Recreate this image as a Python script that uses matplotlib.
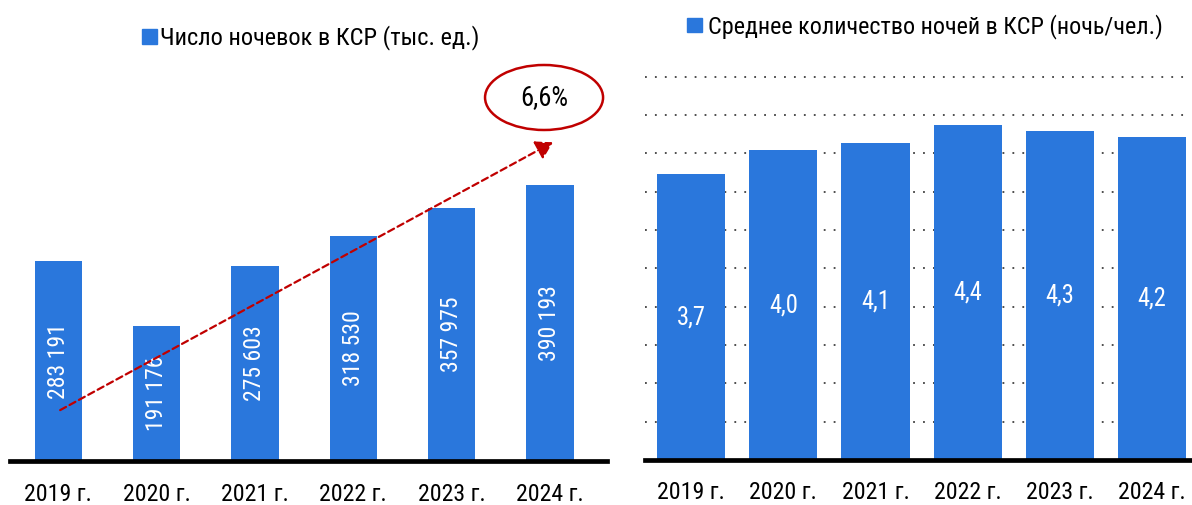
import matplotlib
matplotlib.use("Agg")
import matplotlib.pyplot as plt
from matplotlib.patches import Rectangle, Ellipse
from matplotlib import font_manager

years = ["2019 г.", "2020 г.", "2021 г.", "2022 г.", "2023 г.", "2024 г."]
overnights = [283191, 191176, 275603, 318530, 357975, 390193]
avg_nights = [3.73, 4.04, 4.14, 4.37, 4.29, 4.22]
legend_left = "Число ночевок в КСР (тыс. ед.)"
legend_right = "Среднее количество ночей в КСР (ночь/чел.)"
growth_label = "6,6%"

names = {f.name for f in font_manager.fontManager.ttflist}
cands = ["Liberation Sans Narrow", "Arial Narrow", "Roboto Condensed", "PT Sans Narrow",
         "Liberation Sans", "DejaVu Sans"]
fam = [n for n in cands if n in names]
plt.rcParams["font.family"] = fam

BLUE = "#2A77DC"
RED = "#C00000"
FS = 17

W, H = 1192, 505
fig = plt.figure(figsize=(W / 100, H / 100), dpi=100)


def rect(x0, x1, ytop, ybot):
    return [x0 / W, (H - ybot) / H, (x1 - x0) / W, (ybot - ytop) / H]


x = list(range(len(years)))

# ---------- left chart ----------
axL = fig.add_axes(rect(10, 607, 60, 461))
axL.bar(x, overnights, width=0.48, color=BLUE, zorder=2)
axL.set_xlim(-0.49, 5.58)
axL.set_ylim(0, 567400)
for s in ["top", "left", "right"]:
    axL.spines[s].set_visible(False)
axL.spines["bottom"].set_linewidth(3.4)
axL.spines["bottom"].set_color("black")
axL.set_yticks([])
axL.set_xticks(x)
axL.set_xticklabels(years, fontsize=FS)
axL.tick_params(axis="x", length=0, pad=16)
left_labels = []
for xi, v in zip(x, overnights):
    lbl = f"{v:,}".replace(",", " ")
    left_labels.append(axL.text(xi, v / 2, lbl, rotation=90, ha="center", va="center",
                                color="white", fontsize=FS, zorder=3))

# trend arrow
axL.annotate("", xy=(5.03, 451000), xytext=(0.02, 72000),
             arrowprops=dict(arrowstyle="-|>,head_length=0.5,head_width=0.3",
                             mutation_scale=20,
                             color=RED, lw=1.6, linestyle=(0, (3, 1.8)),
                             shrinkA=0, shrinkB=0),
             annotation_clip=False, zorder=4)
ell = Ellipse((4.94, 514350), width=1.20, height=65 * 1415, fill=False,
              edgecolor=RED, lw=1.8, clip_on=False, zorder=4)
axL.add_patch(ell)
growth = axL.text(4.94, 514350, growth_label, ha="center", va="center",
                  fontsize=FS, color="black", zorder=5)

# ---------- right chart ----------
axR = fig.add_axes(rect(645, 1190, 60, 460))
axR.bar(x, avg_nights, width=0.74, color=BLUE, zorder=2)
axR.set_xlim(-0.5, 5.41)
axR.set_ylim(0, 5.22)
for s in ["top", "left", "right"]:
    axR.spines[s].set_visible(False)
axR.spines["bottom"].set_linewidth(3.4)
axR.spines["bottom"].set_color("black")
axR.spines["bottom"].set_zorder(5)
axR.set_yticks([i * 0.5 for i in range(1, 11)])
axR.tick_params(axis="y", length=0, labelleft=False)
axR.yaxis.grid(True, color="#404040", linestyle=(0, (1, 4.5)), lw=1.3, zorder=1)
axR.set_axisbelow(True)
axR.set_xticks(x)
axR.set_xticklabels(years, fontsize=FS)
axR.tick_params(axis="x", length=0, pad=15)
right_labels = []
for xi, v in zip(x, avg_nights):
    lbl = f"{v:.1f}".replace(".", ",")
    right_labels.append(axR.text(xi, v / 2, lbl, ha="center", va="center",
                                 color="white", fontsize=FS, zorder=3))

# ---------- legends ----------
fig.patches.append(Rectangle((142 / W, 1 - 44 / H), 15 / W, 15 / H,
                             transform=fig.transFigure, color=BLUE, figure=fig))
legL = fig.text(160 / W, 1 - 44 / H, legend_left, ha="left", va="baseline", fontsize=FS)
fig.patches.append(Rectangle((687 / W, 1 - 32 / H), 15 / W, 14 / H,
                             transform=fig.transFigure, color=BLUE, figure=fig))
legR = fig.text(708 / W, 1 - 33 / H, legend_right, ha="left", va="baseline", fontsize=FS)

# ---------- fit font sizes to the reference's text extents ----------
fig.canvas.draw()
r = fig.canvas.get_renderer()


def fit(texts, ref, target, vertical=False):
    bb = ref.get_window_extent(r)
    size = bb.height if vertical else bb.width
    fs = ref.get_fontsize() * target / size
    for t in texts:
        t.set_fontsize(fs)


fit([legL], legL, 318)
fit([legR], legR, 455)
fit(left_labels, left_labels[-1], 76, vertical=True)
fit(right_labels, right_labels[0], 29)
fit([growth], growth, 48)
ticks = axL.get_xticklabels() + axR.get_xticklabels()
fit(ticks, axR.get_xticklabels()[0], 68)

fig.savefig("out.png", dpi=100)
